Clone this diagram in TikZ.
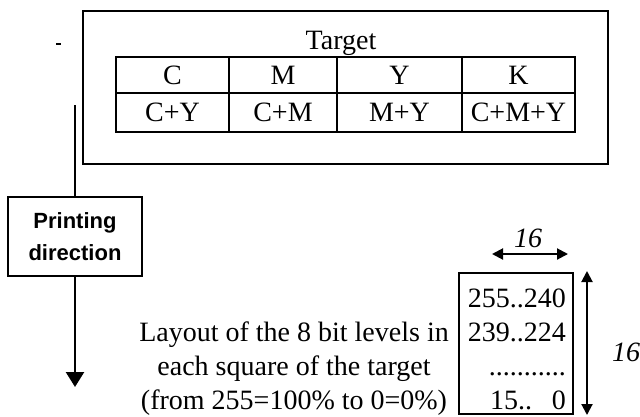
\documentclass[tikz,border=0pt]{standalone}
\usepackage{fontspec}
\setmainfont{Liberation Serif}
\newfontfamily\labelsans{Liberation Sans}
\usetikzlibrary{arrows.meta}
\begin{document}
\begin{tikzpicture}[x=1pt,y=-1pt,
  frame/.style={draw,line width=2.2pt},
  serif/.style={font=\fontsize{28}{34}\selectfont, inner sep=0pt},
  basetxt/.style={serif, anchor=base},
  dimlabel/.style={font=\itshape\fontsize{28}{34}\selectfont, inner sep=0pt, anchor=base},
  dirbox/.style={draw, line width=2.2pt, minimum width=134pt, minimum height=79pt,
    align=center, font=\labelsans\bfseries\fontsize{22}{32}\selectfont},
  bigtip/.style={-{Triangle[length=15pt,width=18pt]}, line width=2.4pt},
  dimarrow/.style={{Triangle[length=11pt,width=11pt]}-{Triangle[length=11pt,width=11pt]}, line width=2pt}
]
\useasboundingbox (0,0) rectangle (640,416);

% outer frame of the target
\node[frame, minimum width=525pt, minimum height=153pt, inner sep=0pt] (outer) at (345.5,87.5) {};
\node[basetxt] (title) at (341,49) {Target};

% colour table
\draw[line width=2.2pt] (116,57) rectangle (575,132);
\draw[line width=2.2pt] (116,93) -- (575,93);
\foreach \x in {229,337,462} \draw[line width=2.2pt] (\x,57) -- (\x,132);
\node[serif] (c)   at (172.5,75) {C};
\node[serif] (m)   at (283,75) {M};
\node[serif] (y)   at (399.5,75) {Y};
\node[serif] (k)   at (518.5,75) {K};
\node[serif] (cy)  at (172.5,112.5) {C+Y};
\node[serif] (cm)  at (283,112.5) {C+M};
\node[serif] (my)  at (399.5,112.5) {M+Y};
\node[serif] (cmy) at (518.5,112.5) {C+M+Y};

% stray mark
\draw[line width=1.2pt] (56,44) -- (61,44);

% printing direction
\coordinate (dirtop) at (75,105);
\node[dirbox] (print) at (75,236.5) {Printing\\direction};
\coordinate (dirend) at (75,387);
\draw[line width=2.4pt] (dirtop) -- (print.north);
\draw[bigtip] (print.south) -- (dirend);

% bit level square
\node[frame, minimum width=114pt, minimum height=141pt, inner sep=0pt] (bits) at (516,343.5) {};
\node[basetxt, anchor=base east] (r1) at (566,307) {255..240};
\node[basetxt, anchor=base east] (r2) at (566,341) {239..224};
\node[basetxt, anchor=base east] (r3) at (566,375) {...........};
\node[basetxt, anchor=base west] (r4a) at (490,409) {15..};
\node[basetxt, anchor=base east] (r4b) at (566,409) {0};

% explanation
\node[basetxt] (l1) at (294,341) {Layout of the 8 bit levels in};
\node[basetxt] (l2) at (294,375) {each square of the target};
\node[basetxt] (l3) at (294,409) {(from 255=100\% to 0=0\%)};

% dimensions
\coordinate (hl) at (492,254);
\coordinate (hr) at (568,254);
\draw[dimarrow] (hl) -- (hr);
\node[dimlabel] (w16) at (528,247) {16};
\coordinate (vt) at (587,271);
\coordinate (vb) at (587,415);
\draw[dimarrow] (vt) -- (vb);
\node[dimlabel] (h16) at (626,361) {16};
\end{tikzpicture}
\end{document}
